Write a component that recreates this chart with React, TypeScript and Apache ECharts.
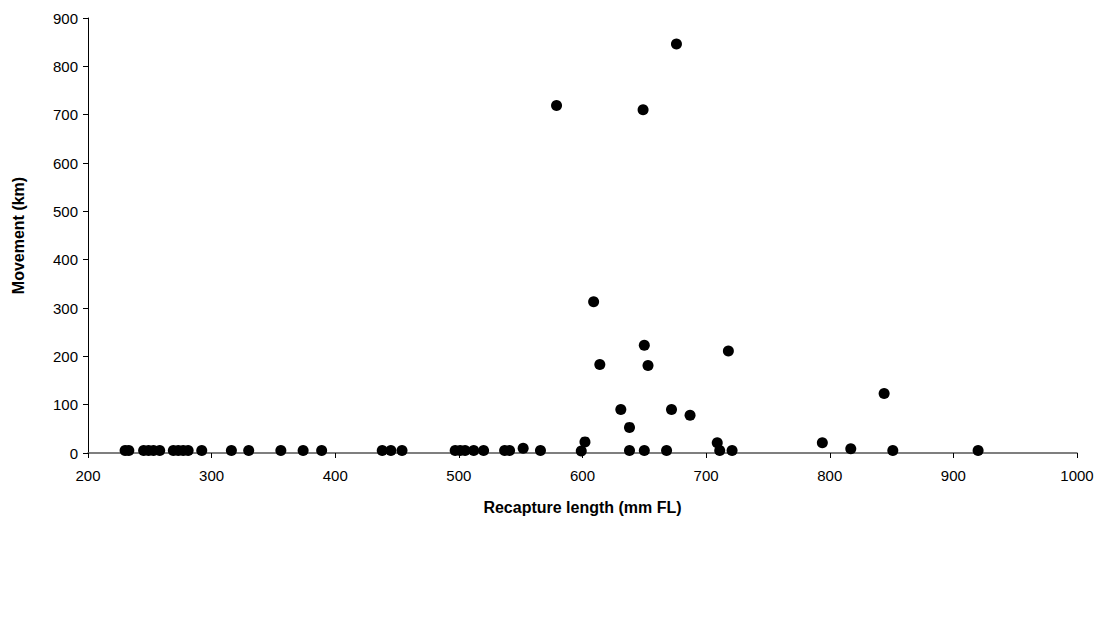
import React, { useEffect, useRef } from "react";
import * as echarts from "echarts";

const baselineLength = [
  230, 233, 245, 249, 253, 258, 269, 273, 277, 281, 292, 316, 330, 356, 374, 389,
  438, 445, 454, 497, 501, 505, 512, 520, 537, 541, 552, 566, 599, 638, 650, 668,
  711, 721, 817, 851, 920,
];
const baselineMovement = [
  5, 5, 5, 5, 5, 5, 5, 5, 5, 5, 5, 5, 5, 5, 5, 5,
  5, 5, 5, 5, 5, 5, 5, 5, 5, 5, 10, 5, 4, 5, 5, 5,
  5, 5, 9, 5, 5,
];
const upperLength = [579, 649, 676, 609, 614, 650, 653, 718, 631, 672, 687, 638, 602, 709, 794, 844];
const upperMovement = [719, 710, 846, 313, 183, 223, 181, 211, 90, 90, 78, 53, 23, 21, 21, 123];

const xTicks = [200, 300, 400, 500, 600, 700, 800, 900, 1000];
const yTicks = [0, 100, 200, 300, 400, 500, 600, 700, 800, 900];

export default function App() {
  const ref = useRef<HTMLDivElement>(null);
  useEffect(() => {
    if (!ref.current) return;
    const chart = echarts.init(ref.current, null, { renderer: "svg" });
    const data: number[][] = [];
    baselineLength.forEach((x, i) => data.push([x, baselineMovement[i]]));
    upperLength.forEach((x, i) => data.push([x, upperMovement[i]]));
    const font = "'Liberation Sans', Arial, sans-serif";
    chart.setOption({
      animation: false,
      backgroundColor: "#ffffff",
      grid: { left: 88, right: 24, top: 18, bottom: 168, containLabel: false },
      xAxis: {
        type: "value",
        min: xTicks[0],
        max: xTicks[xTicks.length - 1],
        interval: 100,
        name: "Recapture length (mm FL)",
        nameLocation: "middle",
        nameGap: 46,
        nameTextStyle: { fontFamily: font, fontSize: 16, fontWeight: "bold", color: "#000" },
        axisLine: { show: true, lineStyle: { color: "#555", width: 1.5 } },
        axisTick: { show: true, inside: false, length: 5, lineStyle: { color: "#000" } },
        axisLabel: {
          fontFamily: font,
          fontSize: 15,
          color: "#000",
          margin: 15,
          formatter: (v: number) => String(v),
        },
        splitLine: { show: false },
      },
      yAxis: {
        type: "value",
        min: yTicks[0],
        max: yTicks[yTicks.length - 1],
        interval: 100,
        name: "Movement (km)",
        nameLocation: "middle",
        nameGap: 62,
        nameTextStyle: { fontFamily: font, fontSize: 16, fontWeight: "bold", color: "#000" },
        axisLine: { show: true, lineStyle: { color: "#000", width: 1 } },
        axisTick: { show: true, inside: false, length: 5, lineStyle: { color: "#000" } },
        axisLabel: { fontFamily: font, fontSize: 15, color: "#000", margin: 10 },
        splitLine: { show: false },
      },
      series: [
        {
          type: "scatter",
          data,
          symbol: "circle",
          symbolSize: 11,
          itemStyle: { color: "#000", opacity: 1 },
        },
      ],
    });
    return () => chart.dispose();
  }, []);
  return (
    <div
      ref={ref}
      style={{ position: "fixed", left: 0, top: 0, width: 1101, height: 621, background: "#fff" }}
    />
  );
}
